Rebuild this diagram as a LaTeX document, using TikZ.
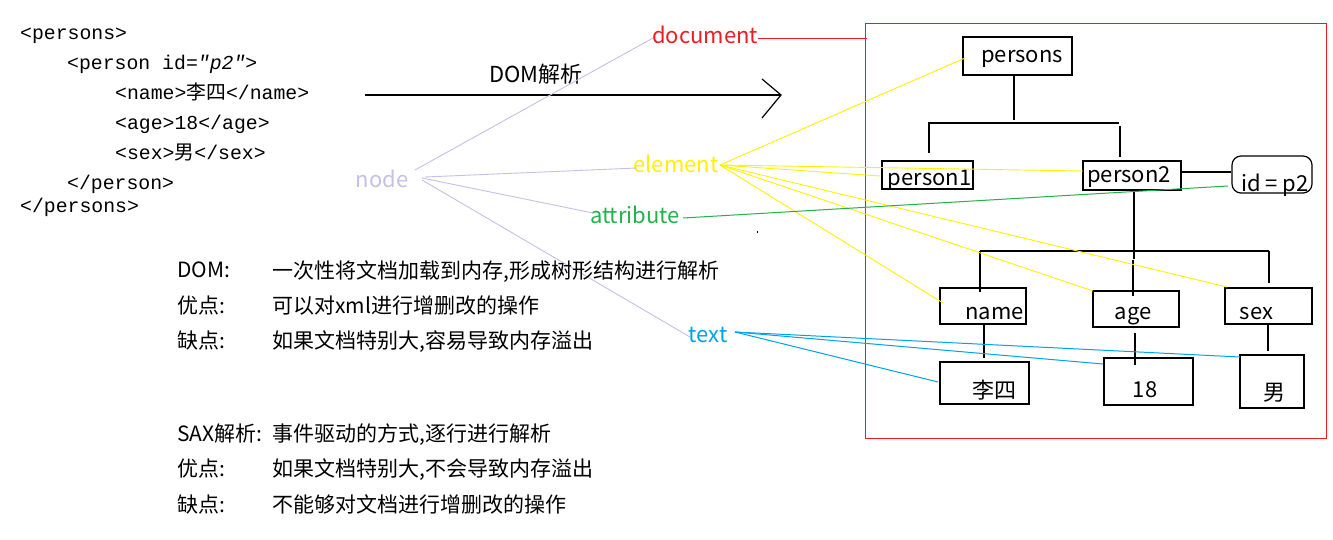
\documentclass[tikz,border=0pt]{standalone}
\usepackage{fontspec}
\setmainfont{Noto Sans CJK SC}
\newfontfamily\cjk{Noto Sans CJK SC}
\newfontfamily\codefont{Liberation Mono}
\definecolor{pRed}{RGB}{237,28,36}
\definecolor{pLav}{RGB}{200,191,231}
\definecolor{pYel}{RGB}{255,242,0}
\definecolor{pGrn}{RGB}{34,177,76}
\definecolor{pCyan}{RGB}{0,162,232}
\begin{document}
\begin{tikzpicture}[x=1pt,y=-1pt,
  code/.style={anchor=base west,inner sep=0pt,font=\codefont\fontsize{19.8}{20}\selectfont},
  txt/.style={anchor=base west,inner sep=0pt,font=\fontsize{21}{21}\selectfont},
  lbl/.style={anchor=base,inner sep=0pt,font=\fontsize{22}{22}\selectfont},
  box/.style={draw=black,line width=1.2pt,inner sep=0pt},
  tline/.style={draw=black,line width=1.2pt},
  lav/.style={draw=pLav,line width=0.9pt},
  yel/.style={draw=pYel,line width=0.9pt},
  grn/.style={draw=pGrn,line width=1pt},
  cya/.style={draw=pCyan,line width=1pt}]
\useasboundingbox (0,0) rectangle (1333,540);
\fill[white] (0,0) rectangle (1333,540);

% XML code
\node[code] (c1) at (20,40) {<persons>};
\node[code] (c2) at (67,70) {<person id=\textit{"p2"}>};
\node[code] (c3) at (115,100) {<name>{\cjk 李四}</name>};
\node[code] (c4) at (115,130) {<age>18</age>};
\node[code] (c5) at (115,160) {<sex>{\cjk 男}</sex>};
\node[code] (c6) at (67,190) {</person>};
\node[code] (c7) at (20,213) {</persons>};

% DOM arrow
\node[lbl] (domlbl) at (536,83) {DOM解析};
\coordinate (arrS) at (365,95);
\coordinate (arrE) at (781,95);
\coordinate (arrU) at (762,79);
\coordinate (arrD) at (762,118);
\draw[tline] (arrS) -- (arrE);
\draw[tline] (arrU) -- (arrE) -- (arrD);

% category labels
\node[lbl,text=pRed] (doc) at (705,44) {document};
\node[lbl,text=pLav] (nd) at (382,188) {node};
\node[lbl,text=pYel] (el) at (676,173) {element};
\node[lbl,text=pGrn] (at) at (635,223) {attribute};
\node[lbl,text=pCyan] (tx) at (708,342) {text};

% red frame
\node[draw=pRed,line width=1pt,minimum width=461pt,minimum height=414pt,inner sep=0pt] (frame) at (1095.5,231) {};

% tree boxes
\node[box,minimum width=109pt,minimum height=38pt] (bPersons) at (1017.5,56) {};
\node[box,minimum width=91pt,minimum height=28pt] (bP1) at (927.5,175) {};
\node[box,minimum width=98pt,minimum height=29pt] (bP2) at (1132,175.5) {};
\node[box,rounded corners=9pt,minimum width=80pt,minimum height=37pt] (bId) at (1272,174.5) {};
\node[box,minimum width=86pt,minimum height=36pt] (bName) at (983,306) {};
\node[box,minimum width=86pt,minimum height=36pt] (bAge) at (1136,309) {};
\node[box,minimum width=87pt,minimum height=36pt] (bSex) at (1268.5,306) {};
\node[box,minimum width=89pt,minimum height=42pt] (bLi) at (984.5,383) {};
\node[box,minimum width=89pt,minimum height=47pt] (b18) at (1148.5,381.5) {};
\node[box,minimum width=64pt,minimum height=53pt] (bNan) at (1272,381.5) {};

% tree texts
\node[lbl] (tPersons) at (1022,63) {persons};
\node[lbl] (tP1) at (929.5,186) {person1};
\node[lbl] (tP2) at (1129,183) {person2};
\node[lbl] (tId) at (1275,192) {id = p2};
\node[lbl] (tName) at (994.5,319) {name};
\node[lbl] (tAge) at (1133,319) {age};
\node[lbl] (tSex) at (1256.5,319) {sex};
\node[lbl] (tLi) at (994,398) {李四};
\node[lbl] (t18) at (1145,397) {18};
\node[lbl] (tNan) at (1274,400) {男};

% tree lines
\draw[tline] (1014,75) -- (1014,120);
\draw[tline] (928,123) -- (1119,123);
\draw[tline] (929,123) -- (929,153);
\draw[tline] (1120,126) -- (1120,157);
\draw[tline] (bP2.east |- 0,172) -- (bId.west |- 0,172);
\draw[tline] (1134,190) -- (1134,259);
\draw[tline] (980,251) -- (1269,251);
\draw[tline] (980,251) -- (980,292);
\draw[tline] (1269,251) -- (1269,283);
\draw[tline] (1133,260) -- (1133,296);
\draw[tline] (984,324) -- (984,358);
\draw[tline] (1135,333) -- (1135,365);
\draw[tline] (1268,324) -- (1268,351);

% red document line
\draw[draw=pRed,line width=1pt] (758,39) -- (867,39);

% node (lavender) connectors
\draw[lav] (415,170) -- (653,38);
\draw[lav] (425,177) -- (637,168);
\draw[lav] (422,178) -- (593,213);
\draw[lav] (422,180) -- (690,337);

% element (yellow) connectors
\coordinate (elF) at (720,165);
\draw[yel] (elF) -- (965,58);
\draw[yel] (elF) -- (1083,171);
\draw[yel] (elF) -- (880,176);
\draw[yel] (elF) -- (943,303);
\draw[yel] (elF) -- (1093,291);
\draw[yel] (elF) -- (1227,287);

% attribute (green) connector
\draw[grn] (683,218) -- (1228,186);

% text (cyan) connectors
\coordinate (txF) at (735,332);
\draw[cya] (txF) -- (938,382);
\draw[cya] (txF) -- (1103,364);
\draw[cya] (txF) -- (1240,357);

% stray dot
\fill[black] (756.5,231.5) rectangle (758,233);

% description text
\node[txt] (d1a) at (177,277) {DOM:};
\node[txt] (d1b) at (272,278) {一次性将文档加载到内存,形成树形结构进行解析};
\node[txt] (d2a) at (177,313) {优点:};
\node[txt] (d2b) at (272,313) {可以对xml进行增删改的操作};
\node[txt] (d3a) at (177,348) {缺点:};
\node[txt] (d3b) at (272,348) {如果文档特别大,容易导致内存溢出};
\node[txt] (s1a) at (177,441) {SAX解析:};
\node[txt] (s1b) at (272,441) {事件驱动的方式,逐行进行解析};
\node[txt] (s2a) at (177,476) {优点:};
\node[txt] (s2b) at (272,476) {如果文档特别大,不会导致内存溢出};
\node[txt] (s3a) at (177,512) {缺点:};
\node[txt] (s3b) at (272,512) {不能够对文档进行增删改的操作};
\end{tikzpicture}
\end{document}
